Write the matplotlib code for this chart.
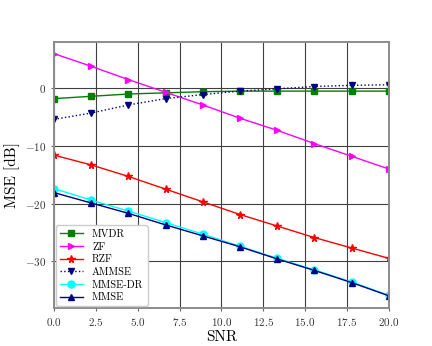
import numpy as np
import matplotlib
matplotlib.use('Agg')
import matplotlib.pyplot as plt

plt.rcParams['font.family'] = 'serif'
plt.rcParams['font.serif'] = ['cmr10']
plt.rcParams['mathtext.fontset'] = 'cm'
plt.rcParams['axes.formatter.use_mathtext'] = True
plt.rcParams['font.size'] = 9

# ---- data ----
snr = np.linspace(0, 20, 10)

mse_mvdr = [-1.8, -1.4, -1.0, -0.8, -0.6, -0.5, -0.5, -0.5, -0.5, -0.5]
mse_zf = [6.0, 3.8, 1.5, -0.7, -2.9, -5.2, -7.3, -9.6, -11.8, -14.0]
mse_rzf = [-11.6, -13.3, -15.3, -17.5, -19.7, -21.9, -23.9, -25.9, -27.7, -29.5]
mse_ammse = [-5.4, -4.3, -2.9, -1.8, -1.1, -0.5, -0.1, 0.3, 0.5, 0.6]
mse_mmse_dr = [-17.4, -19.4, -21.3, -23.3, -25.3, -27.4, -29.5, -31.5, -33.6, -35.9]
mse_mmse = [-18.1, -19.9, -21.7, -23.7, -25.6, -27.5, -29.6, -31.6, -33.7, -36.0]

fig, ax = plt.subplots(figsize=(4.32, 3.46), dpi=100)

ax.plot(snr, mse_mvdr, color='green', marker='s', ms=5, lw=1, label='MVDR')
ax.plot(snr, mse_zf, color='magenta', marker='>', ms=5, lw=1, label='ZF')
ax.plot(snr, mse_rzf, color='red', marker='*', ms=5.5, lw=1, label='RZF')
ax.plot(snr, mse_ammse, color='navy', marker='v', ms=5, lw=1, ls=':', label='AMMSE')
ax.plot(snr, mse_mmse_dr, color='cyan', marker='o', ms=5, lw=1, label='MMSE-DR')
ax.plot(snr, mse_mmse, color='navy', marker='^', ms=5, lw=1, label='MMSE')

ax.set_xlim(0, 20)
ax.set_yticks([0, -10, -20, -30])
ax.set_xlabel('SNR', fontsize=11, labelpad=2)
ax.set_ylabel('MSE [dB]', fontsize=11, labelpad=4)
ax.grid(True, color='0.25', lw=0.8)
for s in ax.spines.values():
    s.set_color('0.55')
    s.set_linewidth(1.4)
ax.tick_params(colors='0.4', labelcolor='0.2', labelsize=8, length=2.5, pad=3)
ax.legend(loc='lower left', fontsize=7.5, borderaxespad=0.15, labelspacing=0.3,
          handlelength=2.2, handletextpad=0.9, framealpha=1)

plt.savefig('out.png', dpi=100)
